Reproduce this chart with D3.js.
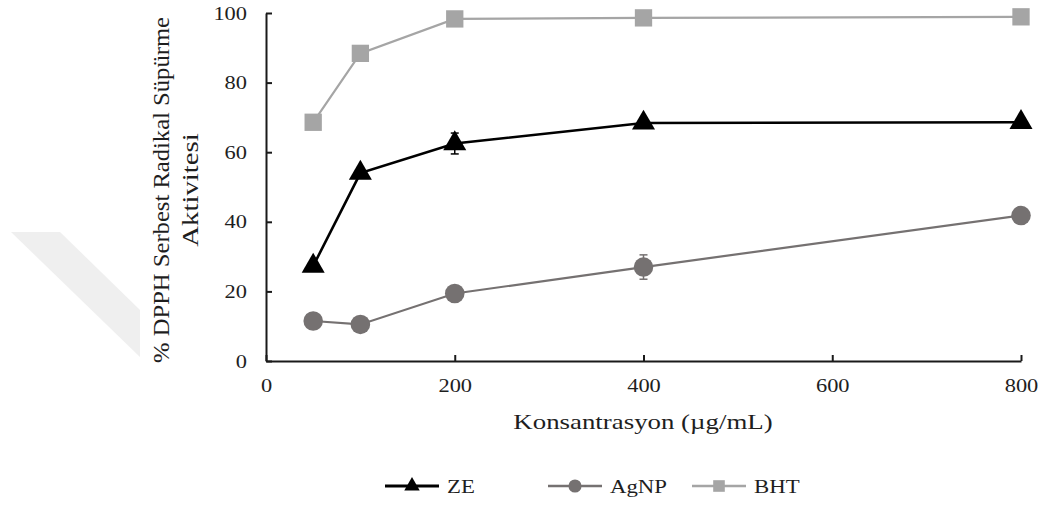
<!DOCTYPE html>
<html lang="tr">
<head>
<meta charset="UTF-8">
<title>DPPH</title>
<script src="https://d3js.org/d3.v7.min.js"></script>
<style>
  body { margin: 0; background: #fff; }
  svg text { font-family: "Liberation Serif", "Times New Roman", serif; fill: #1e1e1e; }
  .axis path, .axis line { stroke: #1a1a1a; stroke-width: 2; }
  .axis text { font-size: 19px; }
</style>
</head>
<body>
<svg id="chart" width="1044" height="506"></svg>
<script>
// data
const concentrations = [50, 100, 200, 400, 800];
const zeValues   = [27.3, 54.0, 62.5, 68.4, 68.6];
const zeErr      = [0.8, 1.0, 3.0, 0.8, 0.8];
const agnpValues = [11.5, 10.5, 19.4, 27.0, 41.8];
const agnpErr    = [0.8, 0.8, 1.0, 3.5, 1.0];
const bhtValues  = [68.6, 88.4, 98.3, 98.6, 98.9];
const bhtErr     = [0.5, 0.5, 0.5, 0.5, 0.5];
const seriesNames = ["ZE", "AgNP", "BHT"];
const xTicks = [0, 200, 400, 600, 800];
const yTicks = [0, 20, 40, 60, 80, 100];

const svg = d3.select("#chart");

// faint watermark shape on the left
svg.append("polygon")
  .attr("points", "11,232 60,232 140,310 140,357")
  .attr("fill", "#efefef");

const x = d3.scaleLinear().domain([0, 800]).range([266, 1021]);
const y = d3.scaleLinear().domain([0, 100]).range([361, 13]);

// stretch text along its direction, like the source image
function stretch(sel, k) {
  sel.each(function () {
    const len = this.getComputedTextLength();
    d3.select(this).attr("textLength", len * k).attr("lengthAdjust", "spacingAndGlyphs");
  });
}

const xAxis = svg.append("g")
  .attr("class", "axis")
  .attr("transform", `translate(0,${y(0)})`)
  .call(d3.axisBottom(x).tickValues(xTicks).tickSizeInner(-6).tickSizeOuter(0).tickPadding(18));
xAxis.selectAll("text").call(stretch, 1.18);

const yAxis = svg.append("g")
  .attr("class", "axis")
  .attr("transform", `translate(${x(0)},0)`)
  .call(d3.axisLeft(y).tickValues(yTicks).tickSizeInner(-6).tickSizeOuter(0).tickPadding(19));
yAxis.selectAll("text").call(stretch, 1.18);

// axis titles
svg.append("text")
  .attr("x", 643).attr("y", 429)
  .attr("text-anchor", "middle")
  .style("font-size", "22px")
  .text("Konsantrasyon (µg/mL)")
  .call(stretch, 1.22);

const yTitle = svg.append("g").attr("transform", "translate(169,190) rotate(-90)");
yTitle.append("text")
  .attr("text-anchor", "middle")
  .style("font-size", "23px")
  .text("% DPPH Serbest Radikal Süpürme")
  .call(stretch, 1.07);
yTitle.append("text")
  .attr("y", 29)
  .attr("text-anchor", "middle")
  .style("font-size", "23px")
  .text("Aktivitesi")
  .call(stretch, 1.25);

const series = [
  { name: seriesNames[0], values: zeValues, err: zeErr, color: "#000000", width: 2.6, shape: d3.symbolTriangle, size: 230 },
  { name: seriesNames[1], values: agnpValues, err: agnpErr, color: "#757171", width: 2.2, shape: d3.symbolCircle, size: 300 },
  { name: seriesNames[2], values: bhtValues, err: bhtErr, color: "#a5a5a5", width: 2.2, shape: d3.symbolSquare, size: 300 }
];

const line = d3.line().x(d => x(d.c)).y(d => y(d.v));

series.forEach(s => {
  const pts = concentrations.map((c, i) => ({ c, v: s.values[i], e: s.err[i] }));
  const g = svg.append("g");
  g.append("path")
    .datum(pts)
    .attr("d", line)
    .attr("fill", "none")
    .attr("stroke", s.color)
    .attr("stroke-width", s.width);
  // error bars
  const eb = g.selectAll(".eb").data(pts).join("g").attr("stroke", s.color).attr("stroke-width", 1.5);
  eb.append("line")
    .attr("x1", d => x(d.c)).attr("x2", d => x(d.c))
    .attr("y1", d => y(d.v - d.e)).attr("y2", d => y(d.v + d.e));
  eb.append("line")
    .attr("x1", d => x(d.c) - 4).attr("x2", d => x(d.c) + 4)
    .attr("y1", d => y(d.v + d.e)).attr("y2", d => y(d.v + d.e));
  eb.append("line")
    .attr("x1", d => x(d.c) - 4).attr("x2", d => x(d.c) + 4)
    .attr("y1", d => y(d.v - d.e)).attr("y2", d => y(d.v - d.e));
  g.selectAll(".m").data(pts).join("path")
    .attr("transform", d => `translate(${x(d.c)},${y(d.v)})`)
    .attr("d", d3.symbol().type(s.shape).size(s.size))
    .attr("fill", s.color);
});

// legend
const legendX = [385, 548, 692];
const legend = svg.append("g").attr("transform", "translate(0,486)");
series.forEach((s, i) => {
  const lg = legend.append("g").attr("transform", `translate(${legendX[i]},0)`);
  lg.append("line")
    .attr("x1", 0).attr("x2", 54)
    .attr("stroke", s.color).attr("stroke-width", s.width + 0.4);
  lg.append("path")
    .attr("transform", "translate(27,0)")
    .attr("d", d3.symbol().type(s.shape).size(s.size * 0.45))
    .attr("fill", s.color);
  lg.append("text")
    .attr("x", 62).attr("y", 7)
    .style("font-size", "19px")
    .text(s.name)
    .call(stretch, 1.2);
});
</script>
</body>
</html>
